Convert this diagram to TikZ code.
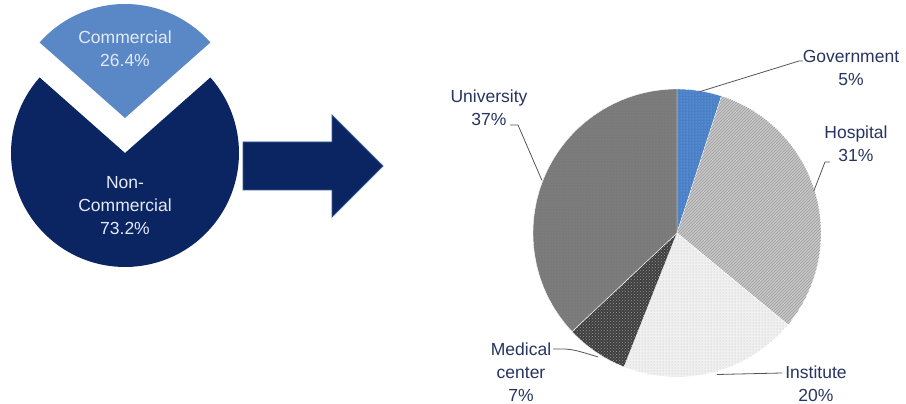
\documentclass[tikz,border=0pt]{standalone}
\usepackage{fontspec}
\setmainfont{Liberation Sans}
\usetikzlibrary{patterns,calc}
\definecolor{navy}{HTML}{0B2462}
\definecolor{navyedge}{HTML}{3B5C96}
\definecolor{combl}{HTML}{5A88C6}
\definecolor{intxt}{HTML}{E4EAF5}
\definecolor{labtxt}{HTML}{26345F}
\definecolor{govblue}{HTML}{4A80C8}
\definecolor{hospgray}{HTML}{C6C6C6}
\definecolor{instgray}{HTML}{F0F0F0}
\definecolor{medgray}{HTML}{3E3E3E}
\definecolor{unigray}{HTML}{7A7A7A}
\definecolor{leadgray}{HTML}{555555}
\begin{document}
\begin{tikzpicture}[x=1pt,y=1pt,
  lab/.style={text=labtxt, align=center, font=\fontsize{17.5}{23}\selectfont, inner sep=1pt},
  inlab/.style={text=intxt, align=center, font=\fontsize{17.5}{23}\selectfont, inner sep=0pt},
  leader/.style={draw=leadgray, line width=0.8pt},
  slice/.style={draw=white, line width=0.4pt}]
\useasboundingbox (0,0) rectangle (906,404);
% left pie
\coordinate (N) at (125,251);
\coordinate (C) at (125,286);
\fill[navy] (N) -- ++(138.5:114) arc[start angle=138.5,end angle=401.5,radius=114] -- cycle;
\fill[combl] (C) -- ++(41.5:114) arc[start angle=41.5,end angle=138.5,radius=114] -- cycle;
\node[inlab] (com) at (125,355) {Commercial\\26.4\%};
\node[inlab] (noncom) at (125,198) {Non-\\Commercial\\73.2\%};
% arrow
\filldraw[fill=navy, draw=navyedge, line width=0.8pt] (243,262) -- (332,262) -- (332,289) -- (383,238) -- (332,187) -- (332,214) -- (243,214) -- cycle;
% right pie
\coordinate (P) at (677,171);
\filldraw[slice, fill=govblue, postaction={pattern=dots, pattern color=govblue!60!white}] (P) -- ++(90:144) arc[start angle=90,end angle=72,radius=144] -- cycle;
\filldraw[slice, fill=hospgray, postaction={pattern=north east lines, pattern color=gray!75}] (P) -- ++(72:144) arc[start angle=72,end angle=-39.6,radius=144] -- cycle;
\filldraw[slice, fill=instgray, postaction={pattern=dots, pattern color=gray!55}] (P) -- ++(-39.6:144) arc[start angle=-39.6,end angle=-111.6,radius=144] -- cycle;
\filldraw[slice, fill=medgray, postaction={pattern=crosshatch dots, pattern color=gray!80}] (P) -- ++(-111.6:144) arc[start angle=-111.6,end angle=-136.8,radius=144] -- cycle;
\filldraw[slice, fill=unigray, postaction={pattern=dots, pattern color=gray!90}] (P) -- ++(-136.8:144) arc[start angle=-136.8,end angle=-270,radius=144] -- cycle;
% labels
\node[lab] (gov) at (851,336.5) {Government\\5\%};
\node[lab] (hosp) at (856,260) {Hospital\\31\%};
\node[lab] (uni) at (489,296.5) {University\\37\%};
\node[lab] (inst) at (816,20) {Institute\\20\%};
\node[lab] (med) at (521,32) {Medical\\center\\7\%};
% leader anchors
\coordinate (govpt) at ($(P)+(81:143)$);
\coordinate (hosppt) at ($(P)+(17:143)$);
\coordinate (unipt) at ($(P)+(158.7:145)$);
\coordinate (medpt) at ($(P)+(-122.6:147)$);
\coordinate (instpt) at ($(P)+(-74.3:147)$);
\coordinate (govend) at (803,343);
\coordinate (hospend) at (830,242);
\coordinate (uniend) at (510,279);
\coordinate (medend) at (553,55);
\coordinate (instend) at (782,31);
\draw[leader] (govpt) -- (799,343) -- (govend);
\draw[leader] (hosppt) -- (825,242) -- (hospend);
\draw[leader] (unipt) -- (518,279) -- (uniend);
\draw[leader] (medpt) .. controls (575,54) .. (565,55) -- (medend);
\draw[leader] (instpt) -- (instend);
\end{tikzpicture}
\end{document}
